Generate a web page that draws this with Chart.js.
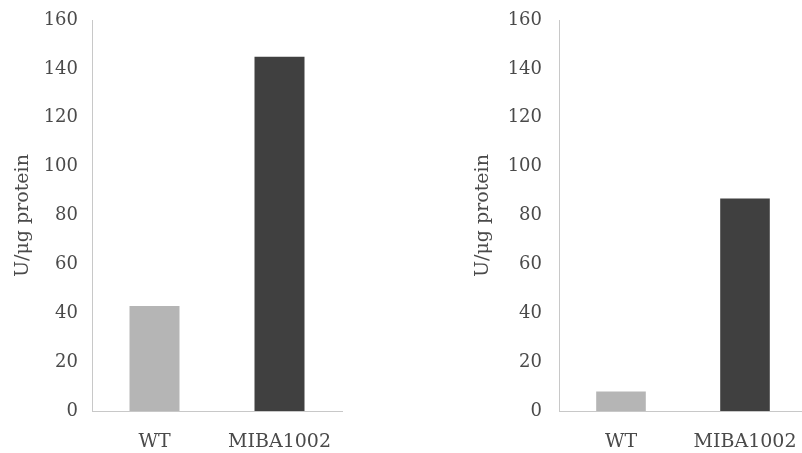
<!DOCTYPE html>
<html>
<head>
<meta charset="utf-8">
<script src="https://cdn.jsdelivr.net/npm/chart.js@4"></script>
<style>
  html, body { margin: 0; padding: 0; background: #fff; overflow: hidden; }
  body { width: 802px; height: 453px; position: relative; }
  .panel { position: absolute; top: 0; height: 453px; }
  #left { left: 0; width: 400px; }
  #right { left: 400px; width: 420px; }
</style>
</head>
<body>
<div class="panel" id="left"><canvas id="chart-left"></canvas></div>
<div class="panel" id="right"><canvas id="chart-right"></canvas></div>
<script>
// Data
const strains = ['WT', 'MIBA1002'];
const leftValues = [43, 145];
const rightValues = [8, 87];
const yTicks = [0, 20, 40, 60, 80, 100, 120, 140, 160];
const yTitle = 'U/\u03bcg protein';

const barColors = ['#b5b5b5', '#404040'];
const textColor = '#4a4a4a';
const axisColor = '#c8c8c8';
const serif = "'DejaVu Serif', serif";

function makeBarChart(canvasId, values, opts) {
    const ctx = document.getElementById(canvasId).getContext('2d');
    return new Chart(ctx, {
        type: 'bar',
        data: {
            labels: strains,
            datasets: [{
                data: values,
                backgroundColor: barColors,
                borderWidth: 0,
                categoryPercentage: 0.8,
                barPercentage: 0.5,
            }]
        },
        options: {
            responsive: true,
            maintainAspectRatio: false,
            animation: false,
            layout: {
                padding: { top: 20, right: opts.padRight, bottom: 0, left: 0 }
            },
            plugins: {
                legend: { display: false },
                tooltip: { enabled: false }
            },
            scales: {
                x: {
                    grid: { display: false, drawTicks: false },
                    border: { display: true, color: axisColor, width: 1 },
                    ticks: {
                        color: textColor,
                        padding: 20,
                        font: { family: serif, size: 19 }
                    },
                    afterFit: s => { s.height = 42; s.paddingLeft = 0; s.paddingRight = 0; }
                },
                y: {
                    min: 0,
                    max: 160,
                    afterBuildTicks: s => { s.ticks = yTicks.map(v => ({ value: v })); },
                    grid: { display: false, drawTicks: false },
                    border: { display: true, color: axisColor, width: 1 },
                    ticks: {
                        color: textColor,
                        padding: opts.tickPad,
                        font: { family: serif, size: 18 }
                    },
                    title: {
                        display: true,
                        text: yTitle,
                        color: textColor,
                        font: { family: serif, size: 19 },
                        padding: { top: opts.titlePad, bottom: 0 }
                    },
                    afterFit: s => { s.width = opts.axisWidth; s.paddingTop = 4; s.paddingBottom = 4; }
                }
            }
        }
    });
}

makeBarChart('chart-left', leftValues, { axisWidth: 92, padRight: 58, tickPad: 14, titlePad: 12 });
makeBarChart('chart-right', rightValues, { axisWidth: 159, padRight: 13, tickPad: 17, titlePad: 72 });
</script>
</body>
</html>
